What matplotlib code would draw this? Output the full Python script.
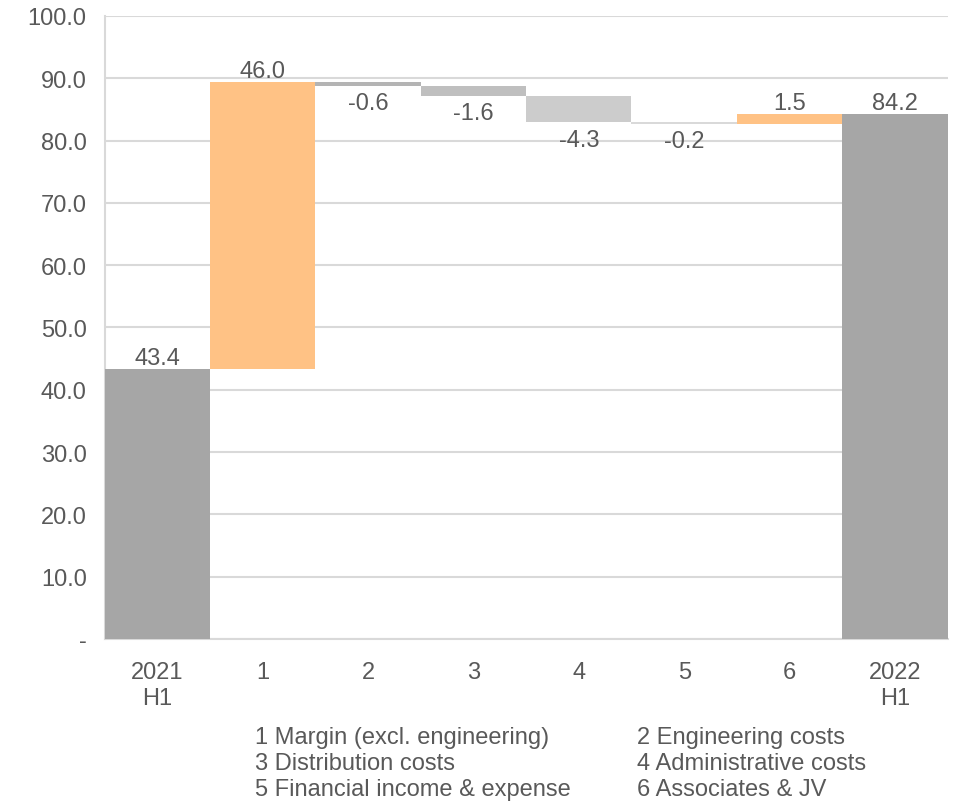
import numpy as np
import matplotlib.pyplot as plt

plt.rcParams['font.family'] = ['Liberation Sans', 'DejaVu Sans']

# data
categories = ['2021\nH1', '1', '2', '3', '4', '5', '6', '2022\nH1']
start_value = 43.4
changes = [46.0, -0.6, -1.6, -4.3, -0.2, 1.5]
end_value = 84.2
change_colors = ['#FFC285', '#B4B4B4', '#BFBFBF', '#CCCCCC', '#D9D9D9', '#FFC285']
notes = [['1 Margin (excl. engineering)', '2 Engineering costs'],
         ['3 Distribution costs', '4 Administrative costs'],
         ['5 Financial income & expense', '6 Associates & JV']]

txt = '#595959'
grid = '#D9D9D9'
fs = 17

fig = plt.figure(figsize=(9.61, 8.04), dpi=100)
ax = fig.add_axes([0.109, 0.204, 0.877, 0.775])

x = np.arange(len(categories))

# totals
ax.bar(x[0], start_value, width=1.0, color='#A6A6A6', zorder=3)
ax.bar(x[-1], end_value, width=1.0, color='#A6A6A6', zorder=3)
ax.text(x[0], start_value, f'{start_value:.1f}', ha='center', va='bottom', fontsize=fs, color=txt)
ax.text(x[-1], end_value, f'{end_value:.1f}', ha='center', va='bottom', fontsize=fs, color=txt)

# steps
level = start_value
for i, (c, col) in enumerate(zip(changes, change_colors)):
    xi = x[i + 1]
    bottom = level if c >= 0 else level + c
    ax.bar(xi, abs(c), bottom=bottom, width=1.0, color=col, zorder=3)
    if c >= 0:
        ax.text(xi, level + c, f'{c:.1f}', ha='center', va='bottom', fontsize=fs, color=txt, zorder=4)
    else:
        ax.text(xi, level + c - 1.0, f'{c:.1f}', ha='center', va='top', fontsize=fs, color=txt, zorder=4)
    level += c

ax.set_xlim(-0.5, len(categories) - 0.5)
ax.set_ylim(0, 100)
yt = np.arange(0, 101, 10)
ax.set_yticks(yt)
ax.set_yticklabels(['-'] + [f'{v:.1f}' for v in yt[1:]])
ax.set_xticks(x)
ax.set_xticklabels(categories)
ax.tick_params(axis='both', length=0, labelsize=fs, colors=txt)
ax.tick_params(axis='x', pad=16)
ax.tick_params(axis='y', pad=13)
ax.yaxis.grid(True, color=grid, linewidth=1.5, zorder=0)

for s in ['top', 'right']:
    ax.spines[s].set_visible(False)
ax.spines['left'].set_color(grid)
ax.spines['left'].set_linewidth(1.5)
ax.spines['bottom'].set_color(grid)
ax.spines['bottom'].set_linewidth(1.5)

# footnotes
for r, row in enumerate(notes):
    yy = 1 - (738 + r * 26) / 804
    fig.text(255 / 961, yy, row[0], ha='left', va='center', fontsize=fs, color=txt)
    fig.text(637 / 961, yy, row[1], ha='left', va='center', fontsize=fs, color=txt)

fig.savefig('out.png', dpi=100)
